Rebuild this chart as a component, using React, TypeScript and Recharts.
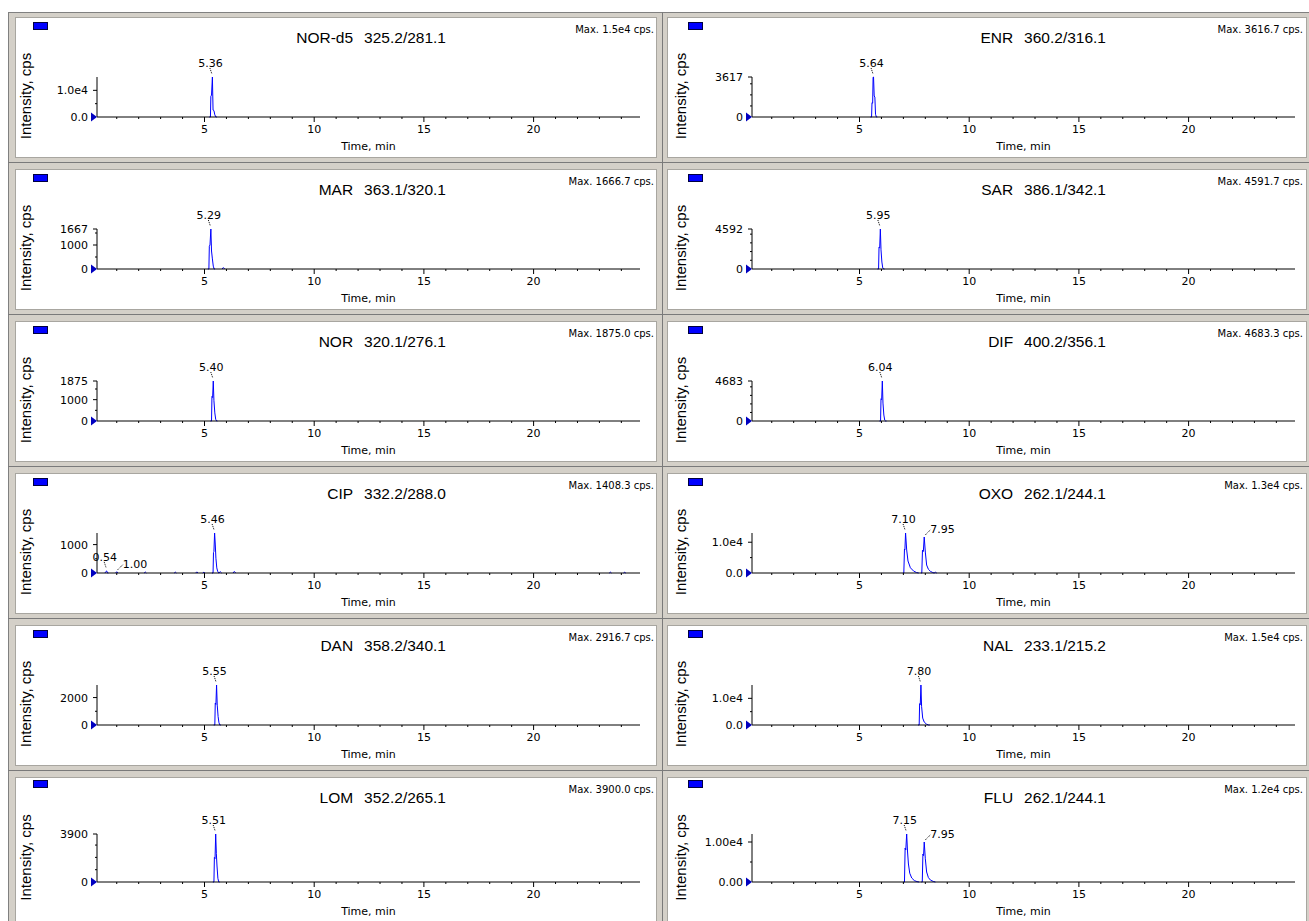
import React from "react";
import { ComposedChart, Line, Scatter, XAxis, YAxis } from "recharts";

const SANS = "'Liberation Sans', Arial, sans-serif";
const SMALL = "'DejaVu Sans', Verdana, sans-serif";

// time axis, minutes
const timeTicks = [1, 2, 3, 4, 5, 6, 7, 8, 9, 10, 11, 12, 13, 14, 15, 16, 17, 18, 19, 20, 21, 22, 23, 24];
const timeLabelled = [5, 10, 15, 20];

// panels: left column top->bottom, then right column top->bottom
const compounds = ["NOR-d5", "MAR", "NOR", "CIP", "DAN", "LOM", "ENR", "SAR", "DIF", "OXO", "NAL", "FLU"];
const transitions = ["325.2/281.1", "363.1/320.1", "320.1/276.1", "332.2/288.0", "358.2/340.1", "352.2/265.1", "360.2/316.1", "386.1/342.1", "400.2/356.1", "262.1/244.1", "233.1/215.2", "262.1/244.1"];
const maxLabels = ["1.5e4", "1666.7", "1875.0", "1408.3", "2916.7", "3900.0", "3616.7", "4591.7", "4683.3", "1.3e4", "1.5e4", "1.2e4"];
const maxIntensity = [15000, 1666.7, 1875, 1408.3, 2916.7, 3900, 3616.7, 4591.7, 4683.3, 13000, 15000, 12000];

const yTickValues = [
  [0, 5000, 10000],
  [0, 500, 1000, 1500, 1666.7],
  [0, 500, 1000, 1500, 1875],
  [0, 500, 1000],
  [0, 1000, 2000],
  [0, 1000, 2000, 3000, 3900],
  [0, 1000, 2000, 3000, 3616.7],
  [0, 1000, 2000, 3000, 4000, 4591.7],
  [0, 1000, 2000, 3000, 4000, 4683.3],
  [0, 5000, 10000],
  [0, 5000, 10000],
  [0, 5000, 10000],
];
const yTickLabels = [
  ["0.0", "", "1.0e4"],
  ["0", "", "1000", "", "1667"],
  ["0", "", "1000", "", "1875"],
  ["0", "", "1000"],
  ["0", "", "2000"],
  ["0", "", "", "", "3900"],
  ["0", "", "", "", "3617"],
  ["0", "", "", "", "", "4592"],
  ["0", "", "", "", "", "4683"],
  ["0.0", "", "1.0e4"],
  ["0.0", "", "1.0e4"],
  ["0.00", "", "1.00e4"],
];

// traces as segments of [time, cps]; the flat baseline between segments sits under the axis
type Pt = [number, number];
const norD5Trace: Pt[][] = [[[5.22, 0], [5.27, 0], [5.29, 7800], [5.32, 8200], [5.36, 15000], [5.39, 2600], [5.43, 2400], [5.47, 800], [5.52, 0], [5.56, 0]]];
const marTrace: Pt[][] = [
  [[5.15, 0], [5.2, 0], [5.22, 950], [5.25, 1000], [5.29, 1666.7], [5.32, 750], [5.36, 420], [5.4, 120], [5.44, 0], [5.48, 0]],
  [[5.8, 0], [5.86, 60], [5.92, 0]],
];
const norTrace: Pt[][] = [[[5.27, 0], [5.32, 0], [5.34, 1150], [5.37, 1100], [5.4, 1875], [5.43, 950], [5.47, 380], [5.51, 80], [5.55, 0], [5.59, 0]]];
const cipTrace: Pt[][] = [
  [[0.46, 0], [0.52, 60], [0.54, 75], [0.58, 0], [0.62, 0]],
  [[0.95, 0], [1.0, 45], [1.05, 0]],
  [[2.25, 0], [2.3, 35], [2.35, 0]],
  [[3.62, 0], [3.67, 30], [3.72, 0]],
  [[4.6, 0], [4.65, 40], [4.7, 0]],
  [[4.92, 0], [4.97, 25], [5.02, 0]],
  [[5.34, 0], [5.39, 0], [5.41, 720], [5.43, 760], [5.46, 1408.3], [5.49, 1020], [5.52, 520], [5.56, 180], [5.6, 60], [5.65, 0], [5.72, 45], [5.78, 0]],
  [[6.3, 0], [6.36, 55], [6.42, 0]],
  [[23.45, 0], [23.5, 30], [23.55, 0]],
  [[24.1, 0], [24.15, 25], [24.2, 0]],
];
const danTrace: Pt[][] = [[[5.42, 0], [5.47, 0], [5.49, 1600], [5.52, 1500], [5.55, 2916.7], [5.58, 1450], [5.62, 620], [5.66, 160], [5.7, 0], [5.74, 0]]];
const lomTrace: Pt[][] = [[[5.38, 0], [5.43, 0], [5.45, 2000], [5.48, 1900], [5.51, 3900], [5.54, 2300], [5.57, 1300], [5.61, 300], [5.65, 0], [5.69, 0]]];
const enrTrace: Pt[][] = [[[5.5, 0], [5.55, 0], [5.57, 1300], [5.6, 1250], [5.62, 3600], [5.64, 3616.7], [5.67, 1900], [5.7, 1800], [5.73, 250], [5.77, 0], [5.81, 0]]];
const sarTrace: Pt[][] = [[[5.82, 0], [5.87, 0], [5.89, 2500], [5.92, 2400], [5.95, 4591.7], [5.98, 2200], [6.02, 800], [6.06, 120], [6.1, 0], [6.14, 0]]];
const difTrace: Pt[][] = [[[5.91, 0], [5.96, 0], [5.98, 2600], [6.01, 2500], [6.04, 4683.3], [6.07, 2100], [6.11, 700], [6.15, 100], [6.19, 0], [6.23, 0]]];
const oxoTrace: Pt[][] = [
  [[6.98, 0], [7.02, 0], [7.05, 7800], [7.07, 7600], [7.1, 13000], [7.15, 7500], [7.21, 3900], [7.32, 1700], [7.47, 600], [7.6, 150], [7.7, 0]],
  [[7.8, 0], [7.84, 0], [7.87, 7400], [7.91, 7000], [7.95, 11700], [8.0, 6800], [8.06, 2600], [8.14, 1200], [8.24, 500], [8.34, 150], [8.4, 0], [8.46, 250], [8.52, 0]],
];
const nalTrace: Pt[][] = [[[7.67, 0], [7.72, 0], [7.74, 8000], [7.77, 7600], [7.8, 15000], [7.83, 7000], [7.88, 2600], [7.95, 1100], [8.05, 350], [8.15, 0], [8.2, 0]]];
const fluTrace: Pt[][] = [
  [[7.0, 0], [7.05, 0], [7.08, 8500], [7.11, 8000], [7.15, 12000], [7.19, 7500], [7.23, 4500], [7.29, 2200], [7.38, 1000], [7.5, 350], [7.62, 100], [7.72, 0]],
  [[7.82, 0], [7.86, 0], [7.89, 7000], [7.92, 6600], [7.95, 10000], [8.0, 5800], [8.06, 2500], [8.14, 1100], [8.24, 450], [8.36, 150], [8.46, 0]],
];
const traces = [norD5Trace, marTrace, norTrace, cipTrace, danTrace, lomTrace, enrTrace, sarTrace, difTrace, oxoTrace, nalTrace, fluTrace];

// labelled apexes [time, cps]
const peakApexes: Pt[][] = [
  [[5.36, 15000]],
  [[5.29, 1666.7]],
  [[5.4, 1875]],
  [[0.54, 75], [1.0, 45], [5.46, 1408.3]],
  [[5.55, 2916.7]],
  [[5.51, 3900]],
  [[5.64, 3616.7]],
  [[5.95, 4591.7]],
  [[6.04, 4683.3]],
  [[7.1, 13000], [7.95, 11700]],
  [[7.8, 15000]],
  [[7.15, 12000], [7.95, 10000]],
];
const sideLabelled = ["1.00", "7.95"];

const toLine = (segs: Pt[][]) =>
  segs.flatMap((seg, i) => {
    const pts = seg.map(([t, v]) => ({ t, v: v as number | null }));
    return i === 0 ? pts : [{ t: seg[0][0], v: null }, ...pts];
  });

const TimeTick = (p: any) => {
  const { x, y, payload } = p;
  const major = timeLabelled.includes(payload.value);
  return (
    <g>
      <line x1={x} y1={y} x2={x} y2={y + (major ? 5 : 2)} stroke="#000" />
      {major && (
        <text x={x} y={y + 16} textAnchor="middle" fontSize={11} fontFamily={SMALL} fill="#000">
          {payload.value}
        </text>
      )}
    </g>
  );
};

const intensityTick = (values: number[], labels: string[]) => (p: any) => {
  const { x, y, payload } = p;
  const label = labels[values.indexOf(payload.value)] || "";
  return (
    <g>
      {payload.value === 0 ? (
        <polygon points={`${x - 6},${y - 4.5} ${x},${y} ${x - 6},${y + 4.5}`} fill="#0000c0" />
      ) : (
        <line x1={x - (label ? 4 : 2)} y1={y} x2={x} y2={y} stroke="#000" />
      )}
      {label && (
        <text x={x - 9} y={y + 4} textAnchor="end" fontSize={11} fontFamily={SMALL} fill="#000">
          {label}
        </text>
      )}
    </g>
  );
};

const PeakMark = (p: any) => {
  const { cx, cy, payload } = p;
  if (cx == null || cy == null) return <g />;
  if (sideLabelled.includes(payload.label)) {
    return (
      <g>
        <line x1={cx + 1} y1={cy - 2} x2={cx + 6} y2={cy - 7} stroke="#000" strokeDasharray="1 1" />
        <text x={cx + 6} y={cy - 4} fontSize={11} fontFamily={SMALL} fill="#000">{payload.label}</text>
      </g>
    );
  }
  return (
    <g>
      <line x1={cx - 2.5} y1={cy - 9} x2={cx - 0.5} y2={cy - 3} stroke="#000" strokeDasharray="1 1" />
      <text x={cx - 2} y={cy - 10} textAnchor="middle" fontSize={11} fontFamily={SMALL} fill="#000">{payload.label}</text>
    </g>
  );
};

const COL = 655;
const PITCH = 152;

function Chromatogram({ idx }: { idx: number }) {
  const col = idx < 6 ? 0 : 1;
  const row = idx % 6;
  const last = row === 5;
  const top = last ? 74 : 77;
  const base = last ? 122 : 117;
  const h = last ? 165 : 152;
  const data = toLine(traces[idx]);
  const peaks = peakApexes[idx].map(([t, v]) => ({ t, v, label: t.toFixed(2) }));
  return (
    <div style={{ position: "absolute", left: col * COL, top: row * PITCH, width: COL, height: h }}>
      <ComposedChart width={COL} height={h} margin={{ top, right: 15, bottom: h - base - 30, left: 37 }}>
        <XAxis
          type="number"
          dataKey="t"
          domain={[0.1, 24.85]}
          ticks={timeTicks}
          interval={0}
          tickLine={false}
          tickSize={0}
          tickMargin={0}
          tick={TimeTick}
          axisLine={{ stroke: "#000" }}
          height={30}
        />
        <YAxis
          type="number"
          domain={[0, maxIntensity[idx]]}
          ticks={yTickValues[idx]}
          interval={0}
          tickLine={false}
          tickSize={0}
          tickMargin={0}
          tick={intensityTick(yTickValues[idx], yTickLabels[idx])}
          axisLine={{ stroke: "#000" }}
          width={60}
        />
        <Line data={data} dataKey="v" type="linear" stroke="#0000ff" strokeWidth={1} dot={false} activeDot={false} connectNulls={false} isAnimationActive={false} />
        <Scatter data={peaks} dataKey="v" shape={PeakMark} isAnimationActive={false} />
      </ComposedChart>
    </div>
  );
}

function Frame() {
  const panels = compounds.map((name, idx) => {
    const col = idx < 6 ? 0 : 1;
    const row = idx % 6;
    const last = row === 5;
    const ox = col * COL;
    const oy = row * PITCH;
    const wx = col === 0 ? 15 : 667;
    const ww = col === 0 ? 641 : 639;
    const wy = 17 + oy;
    const wh = last ? 160 : 140;
    const yl = last ? 97.5 : 96;
    return (
      <g key={idx}>
        <rect x={wx + 0.5} y={wy + 0.5} width={ww} height={wh} fill="#fff" stroke="#a8a6a0" />
        <rect x={ox + 33.5} y={oy + (last ? 20.5 : 22.5)} width={14} height={7} fill="#0000ff" stroke="#000040" />
        <text x={ox + (col === 0 ? 446 : 451)} y={oy + 43} textAnchor="end" fontSize={15.5} fontFamily={SANS} fill="#000">
          <tspan>{name}</tspan>
          <tspan dx={11}>{transitions[idx]}</tspan>
        </text>
        <text x={ox + (col === 0 ? 654 : 648)} y={oy + 33} textAnchor="end" fontSize={10} fontFamily={SMALL} fill="#000">
          {`Max. ${maxLabels[idx]} cps.`}
        </text>
        <text
          x={ox + 31}
          y={oy + yl}
          transform={`rotate(-90 ${ox + 31} ${oy + yl})`}
          textAnchor="middle"
          fontSize={15}
          fontFamily={SANS}
          fill="#000"
        >
          Intensity, cps
        </text>
        <text x={ox + 368.5} y={oy + (last ? 155 : 150)} textAnchor="middle" fontSize={11} fontFamily={SMALL} fill="#000">
          Time, min
        </text>
      </g>
    );
  });
  return (
    <svg width={1309} height={921} style={{ position: "absolute", left: 0, top: 0 }}>
      <rect x={0} y={0} width={1309} height={921} fill="#fff" />
      <rect x={8.5} y={12.5} width={1310} height={920} fill="#d4d0c8" stroke="#808080" />
      <line x1={662.5} y1={12} x2={662.5} y2={921} stroke="#7a7a7a" />
      {[0, 1, 2, 3, 4].map((k) => (
        <line key={k} x1={8} y1={162.5 + k * PITCH} x2={1309} y2={162.5 + k * PITCH} stroke="#7a7a7a" />
      ))}
      {panels}
    </svg>
  );
}

export default function App() {
  return (
    <div style={{ position: "fixed", left: 0, top: 0, width: 1309, height: 921, overflow: "hidden", background: "#fff" }}>
      <Frame />
      {compounds.map((_, idx) => (
        <Chromatogram key={idx} idx={idx} />
      ))}
    </div>
  );
}
